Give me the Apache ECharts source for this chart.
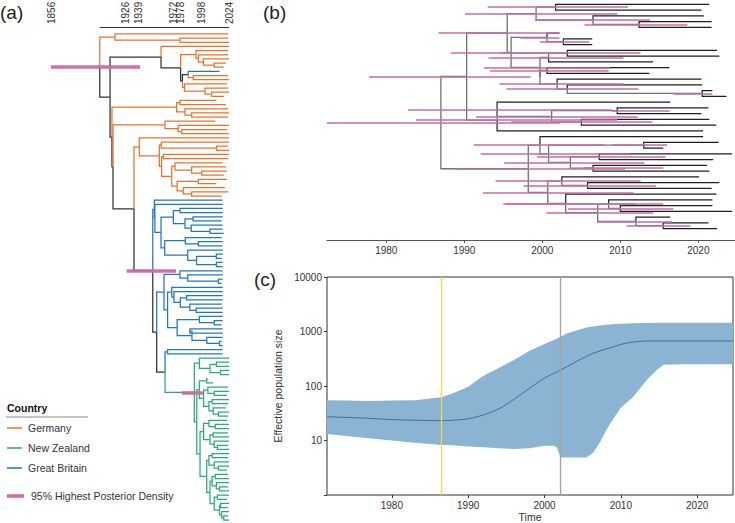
<!DOCTYPE html>
<html lang="en">
<head>
<meta charset="UTF-8">
<title>Phylogeny and skyline</title>
<script src="https://cdn.jsdelivr.net/npm/echarts@6/dist/echarts.min.js"></script>
<style>
    html, body { margin: 0; padding: 0; background: #fff; }
    #chart { width: 735px; height: 523px; }
</style>
</head>
<body>
<div id="chart"></div>
<script>
// ---------- panel (a) tree ----------
// tip = country letter + year (2000+yy); internal node = ")date" with optional "[hpdLow,hpdHigh]"
var cladeGa = "(G23,(G23,G24)1977.7)1916.4";
var cladeGbB = "(G23,(G23,(G24,(G21,G19)2010)1999.7)1995)1992.8";
var cladeGbC = "((B15,(G23,G24)1990.2)1985.5,(G22,(G23,(G24,G19)2007.6)2001.3)1982)1980";
var cladeGb = "(G24,(" + cladeGbB + "," + cladeGbC + ")1978.3)1959.8";
var cladeGc = "((G12,G21)1977.7,(G23,(G24,G23)1988.7)1982.4)1974.5";
var cladeGd = "(G11,(G24,(G22,G24)1979.3)1976)1963.5";
var cladeGeB = "(G24,(G23,G24)2012.3)1960";
var cladeGeE = "(G18,(G21,(G22,G19)1998.2)1988.7)1973";
var cladeGeF = "((G22,G12)1995,(G20,(G23,G17)1988.7)1980.8)1975";
var cladeGeC = "((G24,G23)1962,(" + cladeGeE + "," + cladeGeF + ")1969.9)1960.4";
var cladeGe = "(G24,(" + cladeGeB + "," + cladeGeC + ")1958.2)1939.3";
var cladeGfC = "((B18,B18)1977.7,((B18,B17)1990,(B18,(B18,B19)2006)1988.3)1982.4)1971.4";
var cladeGfD = "((B17,(B18,B18)1995)1982.7,(B18,((B18,B17)2012,(B18,B18)2012)1993.3)1985)1963.3";
var cladeGf = "(B18,(B18,(" + cladeGfC + "," + cladeGfD + ")1959.8)1954)1953.5";
var cladeGgA = "(B18,(B18,(B18,B17)2014)1985)1977.7";
var cladeGgC = "(B18,(B18,((B18,B18)1984,(B17,(B18,B18)1993)1987)1978)1972)1970";
var cladeGgD = "((B18,(B18,B17)2010)1996,((B18,B18)1987,(B18,(B17,B18)2015)2003)1989)1975";
var cladeGg = "(" + cladeGgA + ",(" + cladeGgC + "," + cladeGgD + ")1966)1962.6";
var cladeNzA = "(N24,((N24,N24)2012,(N24,N24)2016)2006)1996";
var cladeNzC = "((N04,N09)2002.9,((N23,(N24,N22)2010)2004,((N24,N23)2008,(N21,(N24,N23)2014)2009)2005)2000)1996";
var cladeNzE = "((N22,(N24,N24)2011)2005,((N23,N24)2009,(N24,(N23,N24)2013)2010)2006)2000";
var cladeNzF = "(((N24,N23)2008,(N24,(N24,N22)2014)2010)2005,(((N23,N24)2011,(N24,(N23,N24)2015)2012)2008,((N24,N22)2013,((N24,N23)2016,(N24,(N23,N24)2019)2017)2015)2010)2006)2002.9";
var cladeNz = "(" + cladeNzA + ",(" + cladeNzC + ",(" + cladeNzE + "," + cladeNzF + ")1996.6)1993.5)1991.2[1979.3,1999.7]";
var treeA = "(" + cladeGa + ",(" + cladeGb + ",(" + cladeGc + ",(" + cladeGd + ",(" + cladeGe +
    ",(" + cladeGf + ",(" + cladeGg + ",((B18,B18)1966," + cladeNz + ")1963.6)1955.7)1952[1927.4,1974])1934.3)1914.5)1913.5)1911.7)1902[1856,1940]";
var axisYearsA = [1856, 1926, 1939, 1972, 1978, 1998, 2024];

// ---------- panel (b) tree (tip = T + years after 2000) ----------
var cladeUpper = "((((T21.4,T20.4)2001.7[1993,2011],(T20.7,(T21.7,T21.7)2012.4[2005.4,2018.6])2006.5[1999.1,2013.8])1999.2[1990.1,2009.6]," +
    "((T2.2,(T6.4,T6.4)2002.7[1999.7,2006])2000.6[1997.2,2002.2]," +
    "(((T22.4,T22.7)2003.2[1994.6,2012.6],T14.2)2000.8[1993.1,2010.4],((T16.3,T13.7)2000.6[1993.3,2008.5]," +
    "(T20.4,(T20.5,(T21.8,T23.6)2020.5[2016.8,2021.8])2003.2[1995.4,2012.3])2001.9[1994.5,2010.4])1999.7)1999.7[1992.5,2008.7])1996[1988.3,2003])1995.5[1986.7,2002.2]," +
    "((T16.4,((T21.3,T20.4)2009.6[2008.9,2016.3],(T21.4,T22.3)2005[1996,2014.1])2001.2[1991.5,2012.2])1994.2[1982.8,2008.9],T20.6)1994.2[1983.8,2009.6])1990.3[1977.8,1998.5]";
var cladeLower = "((T20.6,((T22.6,T15.5)2013[2009,2016],((T24.3,T21.9)2007.3[1999.3,2015.8],(T21.1,T21.4)2006.5[2005.3,2015.5])2003.6[1995.1,2013.1])2000.8[1992.1,2011.3])1999.7[1991.2,2008]," +
    "((T20.1,(T22.7,T21.7)2005.8[1997.6,2014.6])2002.5[1994,2012.6],(T22.3,((T21.8,(T21.8,T24.3)2010[2003.3,2016.8])2008.5[1995.3,2015.5]," +
    "(T16.4,(T21.3,T22.4)2015.5[2010.8,2019])2012[2007,2016.6])2007.1[2000.5,2014.2])2003[1995,2012])2000.7[1992.4,2011.7])1998.2[1988.8,2010.6]";
var treeB = "(" + cladeUpper + "," + cladeLower + ")1987[1972.4,2002.3]";
var axisYearsB = [1980, 1990, 2000, 2010, 2020];

// ---------- panel (c) skyline ----------
var skyYears  = [1971.5, 1974, 1977, 1980, 1983, 1986.5, 1988, 1990, 1992, 1994, 1996, 1998, 2000, 2001.2, 2001.6, 2002.1, 2003, 2005.5, 2006.4, 2007.3, 2008.1, 2009, 2010, 2011.6, 2013.4, 2014.7, 2015.6, 2018, 2021, 2024.7];
var skyMedian = [27.3, 26.5, 25.5, 24.2, 23.6, 23.1, 23.6, 25, 29.5, 38, 57, 90, 140, 170, 180, 196, 230, 350, 400, 440, 480, 520, 580, 640, 670, 670, 670, 670, 670, 670];
var skyLower  = [13.2, 12.1, 11, 10, 9.1, 8.3, 8.2, 7.8, 7.5, 7.2, 7.0, 7.2, 8, 8, 7.6, 4.9, 4.9, 4.9, 6, 9.5, 15.6, 25, 40, 63, 129, 196, 245, 250, 250, 250];
var skyUpper  = [55, 54, 53, 54, 55, 62, 74, 97, 155, 215, 300, 440, 590, 700, 740, 800, 930, 1180, 1230, 1290, 1330, 1360, 1390, 1410, 1430, 1440, 1450, 1450, 1450, 1450];
var markerYears = [1986.5, 2002.1];
var axisYearsC = [1980, 1990, 2000, 2010, 2020];

var COL = { G: '#e8722c', N: '#2aaa78', B: '#2277bd', mix: '#333333' };
var PINK = '#cf69a5';
var FONT = "'Liberation Sans', Arial, sans-serif";

function parseTree(src) {
    var s = src.replace(/\s+/g, '');
    var i = 0;
    function readNum() {
        var st = i;
        while (i < s.length && /[0-9.]/.test(s[i])) i++;
        return parseFloat(s.slice(st, i));
    }
    function readNode() {
        if (s[i] === '(') {
            i++;
            var children = [readNode()];
            while (s[i] === ',') { i++; children.push(readNode()); }
            i++;
            var node = { children: children, date: readNum() };
            if (s[i] === '[') {
                i++;
                var lo = readNum(); i++;
                var hi = readNum(); i++;
                node.hpd = [lo, hi];
            }
            return node;
        }
        var tag = s[i++];
        return { tag: tag, date: 2000 + readNum() };
    }
    return readNode();
}

function layoutTree(root, first) {
    var k = first;
    (function walk(n) {
        if (!n.children) { n.y = k++; return; }
        n.children.forEach(walk);
        var sum = 0;
        n.children.forEach(function (c) { sum += c.y; });
        n.y = sum / n.children.length;
        var tags = {};
        n.children.forEach(function (c) { tags[c.tag] = 1; });
        n.tag = Object.keys(tags).length === 1 ? n.children[0].tag : 'mix';
    })(root);
    var edges = [], hpds = [];
    (function walk(n) {
        if (n.hpd) hpds.push({ coords: [[n.hpd[0], n.y], [n.hpd[1], n.y]] });
        if (!n.children) return;
        n.children.forEach(function (c) {
            edges.push({ tag: c.tag, leaf: !c.children, coords: [[n.date, n.y], [n.date, c.y], [c.date, c.y]] });
            walk(c);
        });
    })(root);
    return { root: root, edges: edges, hpds: hpds };
}

var A = layoutTree(parseTree(treeA), 0);
var B = layoutTree(parseTree(treeB), 1);

var yMinA = -1.685;

function treeLines(name, edges, xi, color, width) {
    return {
        type: 'lines', name: name, coordinateSystem: 'cartesian2d',
        xAxisIndex: xi, yAxisIndex: xi, polyline: true, silent: true,
        lineStyle: { color: color, width: width, opacity: 1 },
        data: edges.map(function (e) { return { coords: e.coords }; })
    };
}

var series = [];
// panel a
['mix', 'G', 'B', 'N'].forEach(function (t) {
    series.push(treeLines(t, A.edges.filter(function (e) { return e.tag === t; }), 0, COL[t], 1.25));
});
series.push({
    type: 'lines', coordinateSystem: 'cartesian2d', xAxisIndex: 0, yAxisIndex: 0, silent: true,
    lineStyle: { color: PINK, width: 3.5, opacity: 0.95 }, data: A.hpds
});
series.push({
    type: 'lines', coordinateSystem: 'cartesian2d', xAxisIndex: 0, yAxisIndex: 0, silent: true,
    lineStyle: { color: '#333', width: 1.2, opacity: 1 },
    data: [{ coords: [[A.root.date, yMinA], [axisYearsA[axisYearsA.length - 1], yMinA]] }]
});
// panel b
series.push(treeLines('internal', B.edges.filter(function (e) { return !e.leaf; }), 1, '#707070', 1.3));
series.push(treeLines('tips', B.edges.filter(function (e) { return e.leaf; }), 1, '#1f1f1f', 1.2));
series.push({
    type: 'lines', coordinateSystem: 'cartesian2d', xAxisIndex: 1, yAxisIndex: 1, silent: true,
    lineStyle: { color: '#c46ea3', width: 1.9, opacity: 0.75 }, data: B.hpds
});
// panel c
series.push({
    type: 'custom', xAxisIndex: 2, yAxisIndex: 2, silent: true,
    data: skyYears.map(function (y, i) { return [y, skyLower[i], skyUpper[i]]; }),
    renderItem: function (params, api) {
        if (params.dataIndex !== 0) return null;
        var pts = [];
        for (var i = 0; i < skyYears.length; i++) pts.push(api.coord([skyYears[i], skyUpper[i]]));
        for (var j = skyYears.length - 1; j >= 0; j--) pts.push(api.coord([skyYears[j], skyLower[j]]));
        return { type: 'polygon', shape: { points: pts, smooth: 0 }, style: { fill: '#8ab4d2' } };
    }
});
series.push({
    type: 'line', xAxisIndex: 2, yAxisIndex: 2, silent: true, showSymbol: false, smooth: 0.3,
    lineStyle: { color: '#2d6aa3', width: 0.9 },
    data: skyYears.map(function (y, i) { return [y, skyMedian[i]]; }),
    markLine: {
        silent: true, symbol: ['none', 'none'], label: { show: false },
        data: [
            { xAxis: markerYears[0], lineStyle: { color: '#ebdd45', width: 1.3, type: 'solid' } },
            { xAxis: markerYears[1], lineStyle: { color: '#a3a3a3', width: 1.3, type: 'solid' } }
        ]
    }
});

var plainYear = function (v) { return String(v); };
var labelStyle = { color: '#333', fontSize: 10, fontFamily: FONT, formatter: plainYear };

var option = {
    animation: false,
    textStyle: { fontFamily: FONT },
    grid: [
        { left: 44.64, top: 27, width: 186.56, height: 497.2, outerBoundsMode: 'none' },
        { left: 327, top: 1.425, width: 408, height: 238.6, outerBoundsMode: 'none' },
        { left: 327, top: 277, width: 406, height: 218, show: true, borderColor: '#333', borderWidth: 1, outerBoundsMode: 'none' }
    ],
    xAxis: [
        {
            gridIndex: 0, type: 'value', position: 'top', min: 1850, max: 2026,
            axisLine: { show: false }, axisTick: { show: false }, splitLine: { show: false },
            axisLabel: Object.assign({}, labelStyle, { customValues: axisYearsA, rotate: 90, margin: 3 })
        },
        {
            gridIndex: 1, type: 'value', min: 1972.4, max: 2024.7,
            axisLine: { show: true, lineStyle: { color: '#555', width: 1 } },
            axisTick: { show: true, customValues: axisYearsB, length: 3, lineStyle: { color: '#555' } },
            splitLine: { show: false },
            axisLabel: Object.assign({}, labelStyle, { customValues: axisYearsB, margin: 5 })
        },
        {
            gridIndex: 2, type: 'value', min: 1971.5, max: 2024.7,
            axisLine: { show: false },
            axisTick: { show: true, customValues: axisYearsC, length: 3, lineStyle: { color: '#333' } },
            splitLine: { show: false },
            axisLabel: Object.assign({}, labelStyle, { customValues: axisYearsC, margin: 5 }),
            name: 'Time', nameLocation: 'middle', nameGap: 16.5,
            nameTextStyle: { color: '#333', fontSize: 10.5, fontFamily: FONT }
        }
    ],
    yAxis: [
        { gridIndex: 0, type: 'value', inverse: true, min: yMinA, max: 118, show: false },
        { gridIndex: 1, type: 'value', inverse: true, min: 0.5, max: 41.99, show: false },
        {
            gridIndex: 2, type: 'log', logBase: 10, min: 1, max: 10000,
            axisLine: { show: false },
            axisTick: { show: true, length: 3, lineStyle: { color: '#333' } },
            splitLine: { show: false },
            axisLabel: Object.assign({}, labelStyle, {
                margin: 5,
                formatter: function (v) { return v <= 1 ? '' : String(Math.round(v)); }
            }),
            name: 'Effective population size', nameLocation: 'middle', nameGap: 34, nameRotate: 90,
            nameTextStyle: { color: '#333', fontSize: 10.5, fontFamily: FONT }
        }
    ],
    graphic: [
        { type: 'text', x: 0, y: 12, style: { text: '(a)', fill: '#222', font: '19px ' + FONT, verticalAlign: 'middle', textVerticalAlign: 'middle' } },
        { type: 'text', x: 263, y: 12, style: { text: '(b)', fill: '#222', font: '19px ' + FONT, verticalAlign: 'middle', textVerticalAlign: 'middle' } },
        { type: 'text', x: 254, y: 279, style: { text: '(c)', fill: '#222', font: '19px ' + FONT, verticalAlign: 'middle', textVerticalAlign: 'middle' } },
        { type: 'text', x: 7, y: 408, style: { text: 'Country', fill: '#111', font: 'bold 10.5px ' + FONT, verticalAlign: 'middle', textVerticalAlign: 'middle' } },
        { type: 'line', shape: { x1: 6, y1: 417, x2: 88, y2: 417 }, style: { stroke: '#b0b0b0', lineWidth: 1.5 } },
        { type: 'line', shape: { x1: 7, y1: 428, x2: 22, y2: 428 }, style: { stroke: COL.G, lineWidth: 1.5 } },
        { type: 'text', x: 28, y: 428, style: { text: 'Germany', fill: '#333', font: '10.5px ' + FONT, verticalAlign: 'middle', textVerticalAlign: 'middle' } },
        { type: 'line', shape: { x1: 7, y1: 448, x2: 22, y2: 448 }, style: { stroke: COL.N, lineWidth: 1.5 } },
        { type: 'text', x: 28, y: 448, style: { text: 'New Zealand', fill: '#333', font: '10.5px ' + FONT, verticalAlign: 'middle', textVerticalAlign: 'middle' } },
        { type: 'line', shape: { x1: 7, y1: 468, x2: 22, y2: 468 }, style: { stroke: COL.B, lineWidth: 1.5 } },
        { type: 'text', x: 28, y: 468, style: { text: 'Great Britain', fill: '#333', font: '10.5px ' + FONT, verticalAlign: 'middle', textVerticalAlign: 'middle' } },
        { type: 'line', shape: { x1: 7, y1: 496, x2: 24, y2: 496 }, style: { stroke: PINK, lineWidth: 3.5 } },
        { type: 'text', x: 31, y: 496, style: { text: '95% Highest Posterior Density', fill: '#333', font: '10.5px ' + FONT, verticalAlign: 'middle', textVerticalAlign: 'middle' } }
    ],
    series: series
};

var myChart = echarts.init(document.getElementById('chart'), null, { renderer: 'svg' });
myChart.setOption(option);
</script>
</body>
</html>
